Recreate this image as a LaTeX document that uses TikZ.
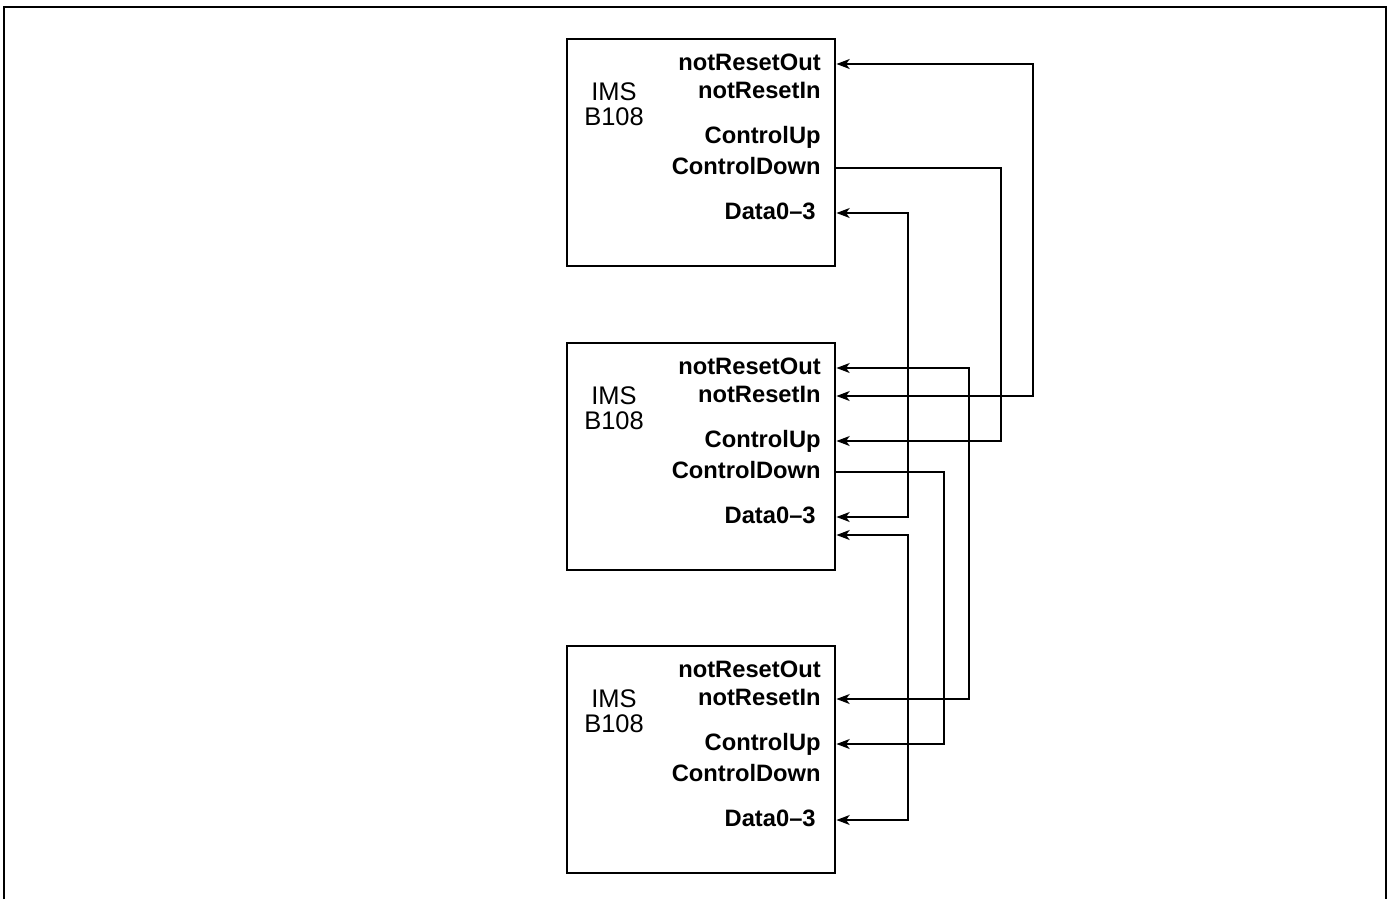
\documentclass[tikz,border=0pt]{standalone}
\usepackage{fontspec}
\setmainfont{Liberation Sans}
\usepackage{tikz}
\usetikzlibrary{arrows.meta, calc}

\begin{document}
\begin{tikzpicture}[x=0.02cm, y=-0.02cm,
    chip/.style={draw, line width=1.4pt, anchor=north west, minimum width=5.36cm, minimum height=4.54cm, inner sep=0pt},
    chipname/.style={font=\fontsize{14.5}{14.2}\selectfont, align=center, inner sep=0pt},
    pinlbl/.style={font=\fontsize{13.5}{16}\bfseries, anchor=east, inner sep=0pt, text height=0.72em, text depth=0pt},
    wire/.style={line width=1.1pt, -{Stealth[length=7.5pt,width=5.6pt,inset=2pt]}},
    wire2/.style={line width=1.1pt, {Stealth[length=7.5pt,width=5.6pt,inset=2pt]}-{Stealth[length=7.5pt,width=5.6pt,inset=2pt]}}]
                    \useasboundingbox (0,0) rectangle (1388,899);
                    % Frame
                    \draw[line width=1.4pt] (4,899) -- (4,7) -- (1386,7) -- (1386,899);
                    % Three B108 boards
                    \foreach \b/\y in {1/38, 2/342, 3/645} {
                        \node[chip] (box\b) at (566,\y) {};
                        \node[chipname] (b\b-name) at (614,\y+66) {IMS\\B108};
                        \node[pinlbl] (b\b-routl) at (821,\y+26) {notResetOut};
                        \node[pinlbl] (b\b-rinl) at (821,\y+54) {notResetIn};
                        \node[pinlbl] (b\b-cupl) at (821,\y+99) {ControlUp};
                        \node[pinlbl] (b\b-cdnl) at (821,\y+130) {ControlDown};
                        \node[pinlbl] (b\b-datal) at (816,\y+175) {Data0--3};
                        \coordinate (b\b-rout) at (b\b-routl -| box\b.east);
                        \coordinate (b\b-rin) at (b\b-rinl -| box\b.east);
                        \coordinate (b\b-cup) at (b\b-cupl -| box\b.east);
                        \coordinate (b\b-cdn) at (b\b-cdnl -| box\b.east);
                        \coordinate (b\b-data) at (b\b-datal -| box\b.east);
                    }
                    \coordinate (b2-datab) at ($(b2-data)+(0,18)$);
                    % Reset chain
                    \draw[wire2] (b1-rout) -- ++(197,0) |- (b2-rin);
                    \draw[wire2] (b2-rout) -- ++(133,0) |- (b3-rin);
                    % Control chain
                    \draw[wire] (b1-cdn) -- ++(165,0) |- (b2-cup);
                    \draw[wire] (b2-cdn) -- ++(108,0) |- (b3-cup);
                    % Data links
                    \draw[wire2] (b1-data) -- ++(72,0) |- (b2-data);
                    \draw[wire2] (b2-datab) -- ++(72,0) |- (b3-data);
                \end{tikzpicture}
\end{document}
